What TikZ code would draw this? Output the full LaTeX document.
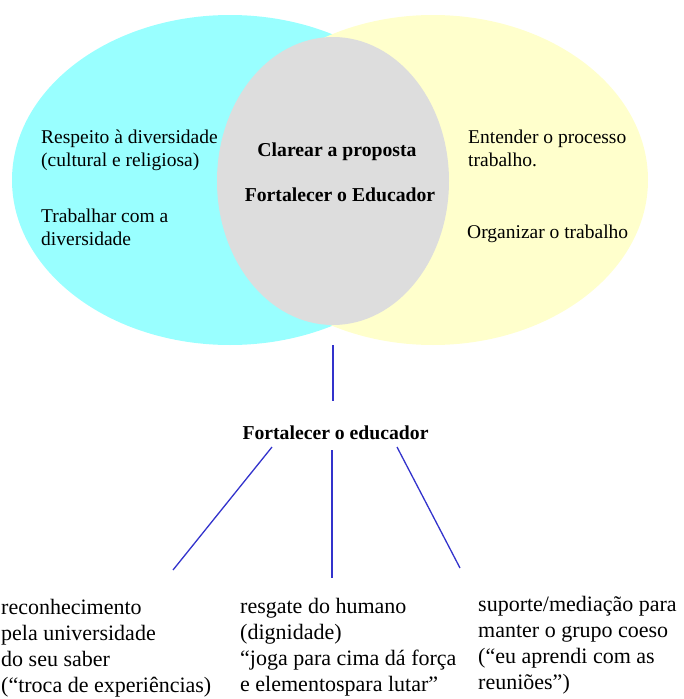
\documentclass[tikz,border=0pt]{standalone}
\usepackage{fontspec}
\setmainfont{Liberation Serif}
\usetikzlibrary{shapes.geometric}
\definecolor{lcyan}{RGB}{153,255,255}
\definecolor{lyellow}{RGB}{255,255,204}
\definecolor{lgrey}{RGB}{221,221,221}
\definecolor{linkblue}{RGB}{51,51,204}
\tikzset{
  blob/.style={ellipse, inner sep=0pt, draw=none},
  txt/.style={anchor=base west, inner sep=0pt, font=\fontsize{19.5}{23}\selectfont},
  low/.style={anchor=base west, inner sep=0pt, font=\fontsize{22}{26}\selectfont},
  head/.style={anchor=base, inner sep=0pt, font=\fontsize{19.7}{23}\selectfont\bfseries},
  link/.style={draw=linkblue, line width=1.3pt}
}
\begin{document}
\begin{tikzpicture}[x=1pt, y=-1pt]
\useasboundingbox (0,0) rectangle (683,699);

% three overlapping ellipses
\node[blob, fill=lcyan, minimum width=436pt, minimum height=330pt] (cy) at (230,180) {};
\node[blob, fill=lyellow, minimum width=430pt, minimum height=330pt] (ye) at (433,180) {};
\node[blob, fill=lgrey, minimum width=232pt, minimum height=288pt] (gr) at (333,181) {};

% left ellipse texts
\node[txt] (r1) at (41,143) {Respeito à diversidade};
\node[txt] (r2) at (41,166) {(cultural e religiosa)};
\node[txt] (t1) at (41,222) {Trabalhar com a};
\node[txt] (t2) at (41,245) {diversidade};

% right ellipse texts
\node[txt] (e1) at (468,143) {Entender o processo};
\node[txt] (e2) at (468,166) {trabalho.};
\node[txt] (o1) at (467,238) {Organizar o trabalho};

% centre texts
\node[head] (c1) at (337,156) {Clarear a proposta};
\node[head] (c2) at (340,201) {Fortalecer o Educador};

% branch title
\node[head] (fe) at (335.5,439) {Fortalecer o educador};

% connectors
\coordinate (v0) at (333,345);
\coordinate (v1) at (333,401);
\coordinate (a0) at (272,447);
\coordinate (a1) at (173,570);
\coordinate (b0) at (332,450);
\coordinate (b1) at (332,578);
\coordinate (c0) at (397,447);
\coordinate (c1e) at (460,568);
\draw[link] (v0) -- (v1);
\draw[link] (a0) -- (a1);
\draw[link] (b0) -- (b1);
\draw[link] (c0) -- (c1e);

% bottom left column
\node[low] (p1) at (1,614) {reconhecimento};
\node[low] (p2) at (1,640) {pela universidade};
\node[low] (p3) at (1,666) {do seu saber};
\node[low] (p4) at (1,692) {(“troca de experiências)};

% bottom middle column
\node[low] (q1) at (240,613) {resgate do humano};
\node[low] (q2) at (240,639) {(dignidade)};
\node[low] (q3) at (240,665) {“joga para cima dá força};
\node[low] (q4) at (240,691) {e elementospara lutar”};

% bottom right column
\node[low] (s1) at (478,611) {suporte/mediação para};
\node[low] (s2) at (478,637) {manter o grupo coeso};
\node[low] (s3) at (478,663) {(“eu aprendi com as};
\node[low] (s4) at (478,689) {reuniões”)};
\end{tikzpicture}
\end{document}
